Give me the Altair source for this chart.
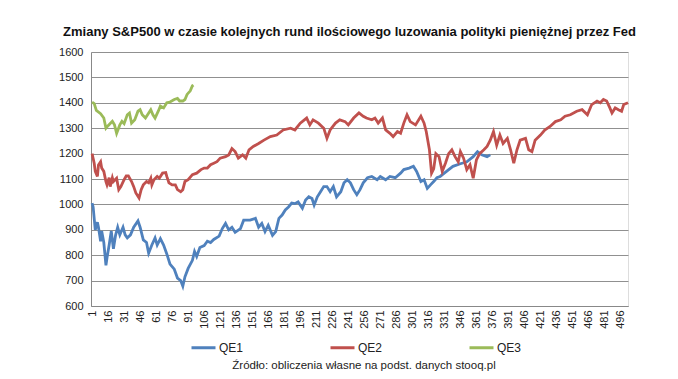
import altair as alt
import pandas as pd

title = "Zmiany S&P500 w czasie kolejnych rund ilościowego luzowania polityki pieniężnej przez Fed"
source = "Źródło: obliczenia własne na podst. danych stooq.pl"
series_names = ["QE1", "QE2", "QE3"]
colors = ["#4F81BD", "#C0504D", "#9BBB59"]
x_ticks = list(range(1, 497, 15))
y_ticks = list(range(600, 1601, 100))

qe1_idx = [1, 2, 4, 6, 7, 9, 10, 12, 14, 15, 17, 19, 21, 23, 25, 27, 30, 32, 34, 37, 40, 44, 46, 49, 52,
           54, 57, 60, 62, 65, 68, 71, 74, 78, 81, 84, 86, 88, 91, 95, 97, 99, 102, 106, 109, 112, 115,
           120, 123, 126, 129, 132, 135, 140, 143, 149, 154, 157, 160, 163, 166, 170, 173, 176, 179, 182,
           185, 188, 191, 194, 198, 201, 204, 207, 209, 212, 215, 218, 221, 224, 227, 230, 234, 237, 240,
           243, 246, 249, 252, 255, 259, 263, 268, 271, 276, 280, 285, 290, 293, 298, 302, 305, 309, 312,
           315, 318, 321, 324, 327, 333, 339, 346, 352, 358, 362, 366, 371, 374]
qe1_val = [1005, 990, 900, 930, 910, 855, 895, 850, 760, 790, 840, 895, 825, 878, 910, 880, 910, 880, 868,
           880, 910, 935, 910, 860, 850, 808, 840, 868, 840, 865, 840, 805, 765, 745, 710, 700, 678, 715,
           748, 780, 815, 795, 830, 838, 855, 850, 862, 875, 905, 925, 900, 910, 890, 905, 938, 938, 945,
           910, 925, 893, 918, 878, 893, 945, 958, 978, 990, 1005, 1003, 1010, 985, 1017, 1030, 1023, 997,
           1030, 1050, 1070, 1070, 1050, 1070, 1030, 1050, 1085, 1097, 1085, 1058, 1038, 1058, 1085, 1105,
           1110, 1097, 1110, 1097, 1110, 1105, 1123, 1137, 1143, 1150, 1130, 1090, 1097, 1063, 1077, 1090,
           1105, 1110, 1130, 1150, 1160, 1168, 1188, 1208, 1195, 1188, 1195]

qe2_idx = [1, 3, 4, 6, 7, 9, 10, 12, 14, 15, 17, 18, 20, 21, 24, 26, 28, 31, 33, 35, 38, 40, 42, 45, 47,
           49, 52, 54, 56, 57, 59, 62, 64, 67, 70, 71, 73, 76, 79, 81, 84, 86, 88, 91, 95, 99, 103, 106,
           109, 112, 115, 118, 121, 126, 129, 132, 135, 138, 142, 145, 148, 152, 157, 162, 168, 174, 180,
           187, 191, 196, 202, 205, 208, 213, 218, 221, 224, 229, 233, 238, 241, 246, 251, 255, 258, 263,
           266, 269, 273, 276, 280, 283, 287, 290, 293, 296, 299, 304, 309, 312, 314, 317, 319, 321, 323,
           326, 329, 332, 335, 338, 341, 344, 346, 349, 352, 355, 358, 361, 364, 368, 371, 374, 377, 380,
           383, 386, 390, 393, 396, 399, 402, 407, 410, 413, 416, 421, 425, 430, 435, 440, 444, 449, 455,
           460, 465, 469, 474, 477, 480, 483, 486, 488, 491, 494, 497, 499, 503]
qe2_val = [1200, 1162, 1130, 1110, 1155, 1168, 1143, 1130, 1090, 1077, 1105, 1070, 1105, 1090, 1103, 1058,
           1070, 1097, 1112, 1112, 1090, 1070, 1045, 1025, 1058, 1077, 1090, 1085, 1103, 1077, 1097, 1110,
           1103, 1123, 1125, 1110, 1085, 1077, 1077, 1058, 1050, 1058, 1090, 1097, 1117, 1123, 1137, 1143,
           1143, 1156, 1162, 1168, 1182, 1188, 1195, 1220, 1208, 1182, 1195, 1182, 1215, 1228, 1240, 1253,
           1267, 1273, 1293, 1300, 1293, 1320, 1340, 1313, 1333, 1320, 1300, 1260, 1293, 1320, 1333, 1326,
           1313, 1340, 1360, 1347, 1340, 1333, 1340, 1320, 1340, 1293, 1280, 1267, 1287, 1280, 1320, 1353,
           1326, 1313, 1347, 1320, 1287, 1215, 1123, 1140, 1200, 1188, 1130, 1162, 1200, 1215, 1188, 1168,
           1208, 1182, 1137, 1156, 1103, 1175, 1200, 1215, 1228, 1253, 1287, 1233, 1273, 1240, 1260, 1215,
           1162, 1215, 1253, 1260, 1215, 1208, 1253, 1273, 1293, 1307, 1326, 1333, 1347, 1353, 1367, 1373,
           1353, 1393, 1407, 1400, 1413, 1407, 1380, 1360, 1380, 1373, 1367, 1393, 1400]

qe3_idx = [1, 3, 5, 9, 12, 14, 16, 20, 22, 24, 27, 29, 31, 34, 36, 38, 41, 44, 46, 48, 51, 53, 56, 58, 60,
           63, 65, 68, 71, 74, 78, 81, 83, 86, 88, 90, 93, 95, 96]
qe3_val = [1403, 1397, 1370, 1357, 1340, 1300, 1310, 1327, 1313, 1280, 1313, 1327, 1318, 1353, 1360, 1320,
           1333, 1367, 1373, 1353, 1340, 1353, 1373, 1353, 1340, 1367, 1387, 1380, 1400, 1403, 1413, 1417,
           1407, 1407, 1413, 1433, 1447, 1467, 1470]

frames = []
for name, idx, val in [("QE1", qe1_idx, qe1_val), ("QE2", qe2_idx, qe2_val), ("QE3", qe3_idx, qe3_val)]:
    frames.append(pd.DataFrame({"dzien": idx, "wartosc": val, "seria": name}))
df = pd.concat(frames, ignore_index=True)

FONT = "Liberation Sans"

lines = alt.Chart(df).mark_line(strokeWidth=2.8, interpolate="linear").encode(
    x=alt.X("dzien:Q", scale=alt.Scale(domain=[0, 503], nice=False, zero=False),
            axis=alt.Axis(values=x_ticks, labelAngle=270, grid=False, ticks=False, title=None,
                          labelFontSize=11, labelColor="#222", labelPadding=4, format="d",
                          domainColor="#888", labelFont=FONT, labelOverlap=False)),
    y=alt.Y("wartosc:Q", scale=alt.Scale(domain=[600, 1600], nice=False, zero=False),
            axis=alt.Axis(values=y_ticks, grid=True, gridColor="#909090", gridWidth=1, ticks=False,
                          title=None, labelFontSize=11, labelColor="#222", labelPadding=8, format="d",
                          domainColor="#888", labelFont=FONT)),
    color=alt.Color("seria:N", scale=alt.Scale(domain=series_names, range=colors),
                    legend=alt.Legend(title=None, orient="none", direction="horizontal",
                                      legendX=99, legendY=282, symbolType="stroke",
                                      symbolSize=576, symbolStrokeWidth=3, labelFontSize=12,
                                      labelFont=FONT, labelColor="#222", columnPadding=80,
                                      labelOffset=2)),
    detail="seria:N",
)

src = alt.Chart(pd.DataFrame({"t": [source]})).mark_text(
    fontSize=11.5, font=FONT, color="#222", align="center", baseline="middle"
).encode(text="t:N", x=alt.value(273), y=alt.value(314))

chart = alt.layer(lines, src).properties(
    width=537, height=254,
    padding={"left": 83, "top": 44, "right": 40, "bottom": 65},
    autosize=alt.AutoSizeParams(type="none"),
    title=alt.TitleParams(title, anchor="middle", frame="group", dx=-10, offset=7,
                          fontSize=13, font=FONT, fontWeight="bold", color="#111"),
).configure_view(stroke=None).configure(background="white")

chart.save("out.html", embed_options={"renderer": "svg", "actions": False})
